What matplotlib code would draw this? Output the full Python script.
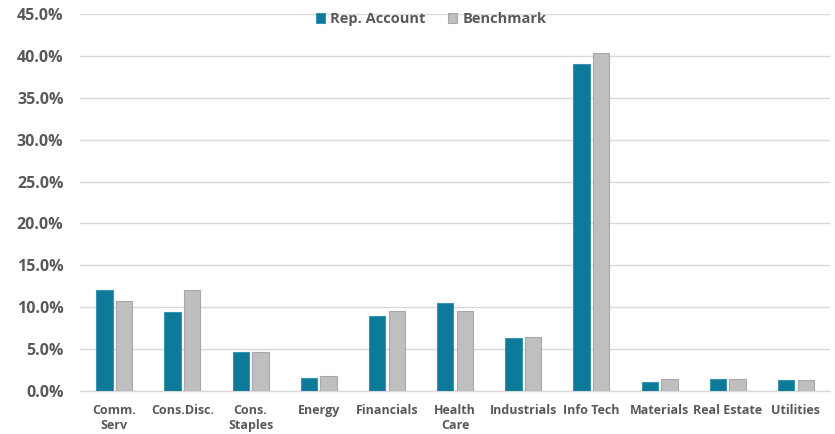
import matplotlib
matplotlib.use("Agg")
import matplotlib.pyplot as plt
import numpy as np
from matplotlib.ticker import FuncFormatter

categories = ["Comm.\nServ", "Cons.Disc.", "Cons.\nStaples", "Energy", "Financials",
              "Health\nCare", "Industrials", "Info Tech", "Materials", "Real Estate", "Utilities"]
rep_account = [12.1, 9.4, 4.6, 1.6, 8.9, 10.45, 6.3, 39.0, 1.1, 1.45, 1.3]
benchmark = [10.7, 12.05, 4.65, 1.8, 9.55, 9.6, 6.5, 40.3, 1.4, 1.4, 1.3]
series_names = ["Rep. Account", "Benchmark"]
yticks = [0, 5, 10, 15, 20, 25, 30, 35, 40, 45]

plt.rcParams['font.family'] = ['Open Sans', 'DejaVu Sans']
text_color = "#595959"

fig = plt.figure(figsize=(8.35, 4.34), dpi=100)
ax = fig.add_axes([0.096, 0.099, 0.898, 0.869])

x = np.arange(len(categories))
w = 0.24
gap = 0.025
ax.bar(x - w/2 - gap, rep_account, w, color="#0E7A99", edgecolor="#3A93AD", linewidth=0.8,
       label=series_names[0], zorder=3)
ax.bar(x + w/2 + gap, benchmark, w, color="#BFBFBF", edgecolor="#A8A8A8", linewidth=0.8,
       label=series_names[1], zorder=3)

ax.set_xlim(-0.5, len(categories) - 0.5)
ax.set_ylim(0, 45)
ax.set_yticks(yticks)
ax.yaxis.set_major_formatter(FuncFormatter(lambda v, p: f"{v:.1f}%"))
ax.grid(axis="y", color="#D9D9D9", linewidth=1, zorder=0)
for s in ["top", "right", "left"]:
    ax.spines[s].set_visible(False)
ax.spines["bottom"].set_color("#D9D9D9")
ax.spines["bottom"].set_linewidth(1)
ax.tick_params(axis="both", length=0)
ax.tick_params(axis="y", labelsize=11.5, labelcolor=text_color, pad=12)
ax.tick_params(axis="x", labelsize=9, labelcolor=text_color, pad=9)
ax.set_xticks(x)
ax.set_xticklabels(categories, fontweight="bold", linespacing=1.25, va="top")
for lbl in ax.get_yticklabels():
    lbl.set_fontweight("bold")

leg = ax.legend(loc="upper center", bbox_to_anchor=(0.468, 1.04), ncol=2, frameon=False,
                prop={"size": 10.5, "weight": "bold"}, handlelength=0.65, handleheight=0.65,
                columnspacing=1.5, handletextpad=0.35)
for t in leg.get_texts():
    t.set_color(text_color)

fig.savefig("out.png", dpi=100)
